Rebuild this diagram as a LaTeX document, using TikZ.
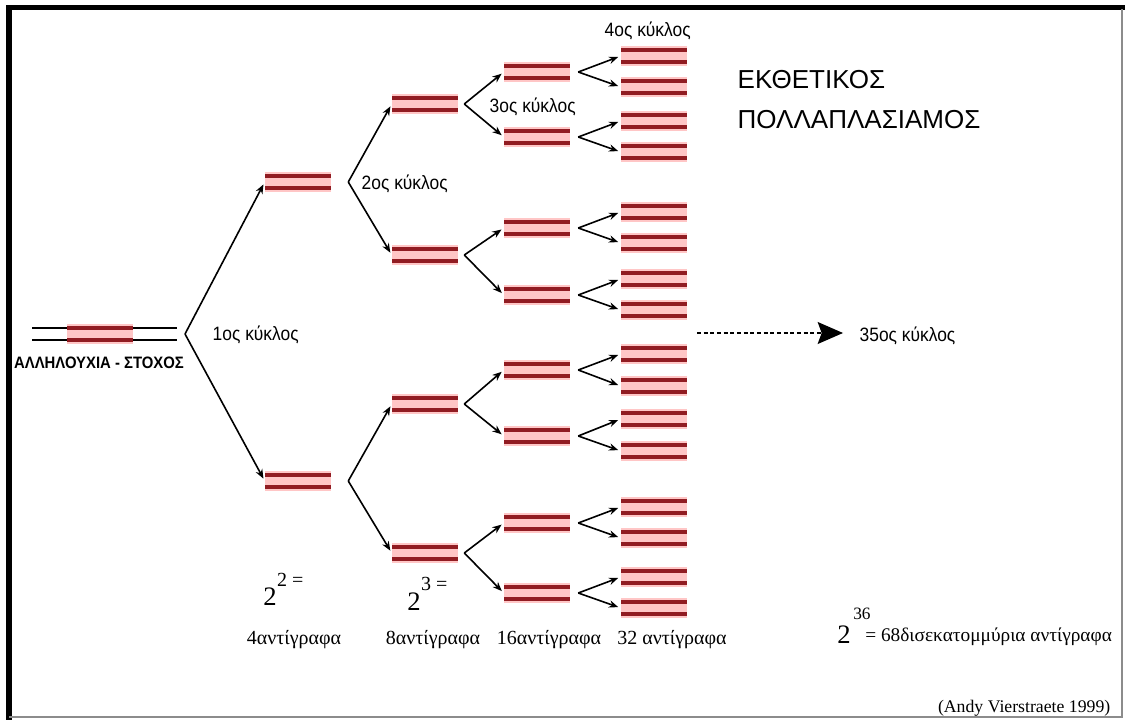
\documentclass[tikz,border=0pt]{standalone}
\usepackage{fontspec}
\setmainfont{Liberation Serif}
\newfontfamily\narrowsans[FakeStretch=0.9]{Liberation Sans}
\newfontfamily\widesans{Liberation Sans}
\usetikzlibrary{arrows.meta}

\definecolor{strand}{RGB}{145,28,34}
\definecolor{halo}{RGB}{255,198,198}

\begin{document}
\begin{tikzpicture}[x=0.75pt,y=0.75pt,yscale=-1,xscale=1,
  duplex/.style={rectangle,minimum width=49.5pt,minimum height=15pt,inner sep=0pt,fill=halo,
    path picture={
      \draw[strand,line width=2.8pt] ([yshift=4.5pt]path picture bounding box.west) -- ([yshift=4.5pt]path picture bounding box.east);
      \draw[strand,line width=2.8pt] ([yshift=-4.5pt]path picture bounding box.west) -- ([yshift=-4.5pt]path picture bounding box.east);}},
  copyarrow/.style={line width=1.2pt,-{Stealth[length=7pt,width=5.5pt]},shorten >=2pt},
  kyklos/.style={font=\narrowsans\fontsize{14.5}{16}\selectfont},
  copies/.style={font=\fontsize{15}{17}\selectfont},
  bigtwo/.style={font=\fontsize{20}{22}\selectfont,inner sep=0pt},
  supscr/.style={font=\fontsize{15}{17}\selectfont,inner sep=0pt}]
\useasboundingbox (0,0) rectangle (1125,720);

%frame
\draw [line width=4pt] (9,720) -- (9,7.5) -- (1125,7.5) ;
\draw [color=black!45,line width=0.8pt] (1122,9) -- (1122,717) -- (9,717) ;

%target sequence
\draw [line width=1.1pt] (32,328) -- (177,328) (32,340) -- (177,340) ;
\node [duplex] (target) at (100,334) {};
\coordinate (fork0) at (185,334);
\node [font=\narrowsans\bfseries\fontsize{12.4}{14}\selectfont] (target-lbl) at (99,363) {ΑΛΛΗΛΟΥΧΙΑ - ΣΤΟΧΟΣ};

%the copies, one column per cycle
\foreach \n/\y in {1/182,2/481}
  \node [duplex] (g1-\n) at (298,\y) {};
\foreach \n/\y in {1/104,2/255,3/404,4/553}
  \node [duplex] (g2-\n) at (425,\y) {};
\foreach \n/\y in {1/72,2/137,3/228,4/295,5/370,6/436,7/523,8/593}
  \node [duplex] (g3-\n) at (537,\y) {};
\foreach \n/\y in {1/56,2/87,3/121,4/152,5/212,6/243,7/279,8/310,9/354,10/386,11/419,12/451,13/507,14/538,15/577,16/608}
  \node [duplex] (g4-\n) at (654,\y) {};

%arrows
\foreach \n in {1,2}
  \draw [copyarrow] (fork0) -- (g1-\n.west) ;
\foreach \p/\n in {1/1,1/2,2/3,2/4}
  \draw [copyarrow] (g1-\p.east) ++(17,0) -- (g2-\n.west) ;
\foreach \p/\n in {1/1,1/2,2/3,2/4,3/5,3/6,4/7,4/8}
  \draw [copyarrow] (g2-\p.east) ++(6,0) -- (g3-\n.west) ;
\foreach \p/\n in {1/1,1/2,2/3,2/4,3/5,3/6,4/7,4/8,5/9,5/10,6/11,6/12,7/13,7/14,8/15,8/16}
  \draw [copyarrow] (g3-\p.east) ++(8,0) -- (g4-\n.west) ;

%cycle labels
\node [kyklos,anchor=west] (k1) at (208,335) {1ος κύκλος};
\node [kyklos,anchor=west] (k2) at (357,184) {2ος κύκλος};
\node [kyklos,anchor=west] (k3) at (485,107) {3ος κύκλος};
\node [kyklos,anchor=west] (k4) at (600,31) {4ος κύκλος};
\node [kyklos,anchor=west] (k35) at (855,336) {35ος κύκλος};
\coordinate (dots-start) at (697,333);
\draw [line width=0.9pt,dash pattern={on 3pt off 2pt},-{Stealth[length=19pt,width=16.5pt,inset=3pt]},shorten >=9pt] (dots-start) -- (dots-start -| k35.west) ;

%title
\node [font=\widesans\fontsize{19.5}{22}\selectfont,anchor=west,align=left] (title) at (733,100) {ΕΚΘΕΤΙΚΟΣ\\[8pt]ΠΟΛΛΑΠΛΑΣΙΑΜΟΣ};

%counts
\node [bigtwo,anchor=base west] (p2) at (263,605) {2};
\node [supscr,anchor=base west] (p2s) at (p2.base east) [yshift=14pt] {2 =};
\node [bigtwo,anchor=base west] (p3) at (407,610) {2};
\node [supscr,anchor=base west] (p3s) at (p3.base east) [yshift=15pt] {3 =};
\node [copies] (c4) at (294,640) {4αντίγραφα};
\node [copies] (c8) at (433,640) {8αντίγραφα};
\node [copies] (c16) at (549,640) {16αντίγραφα};
\node [copies] (c32) at (672,640) {32 αντίγραφα};
\node [bigtwo,anchor=base west] (p36) at (837,643) {2};
\node [supscr,anchor=base west,font=\fontsize{13}{15}\selectfont] (p36s) at (853,619) {36};
\node [copies,anchor=base west,inner sep=0pt,font=\fontsize{14.5}{16}\selectfont] (c36) at (865,641) {= 68δισεκατομμύρια αντίγραφα};

\node [font=\fontsize{13.3}{15}\selectfont,anchor=east] (credit) at (1115,708) {(Andy Vierstraete 1999)};

\end{tikzpicture}
\end{document}
